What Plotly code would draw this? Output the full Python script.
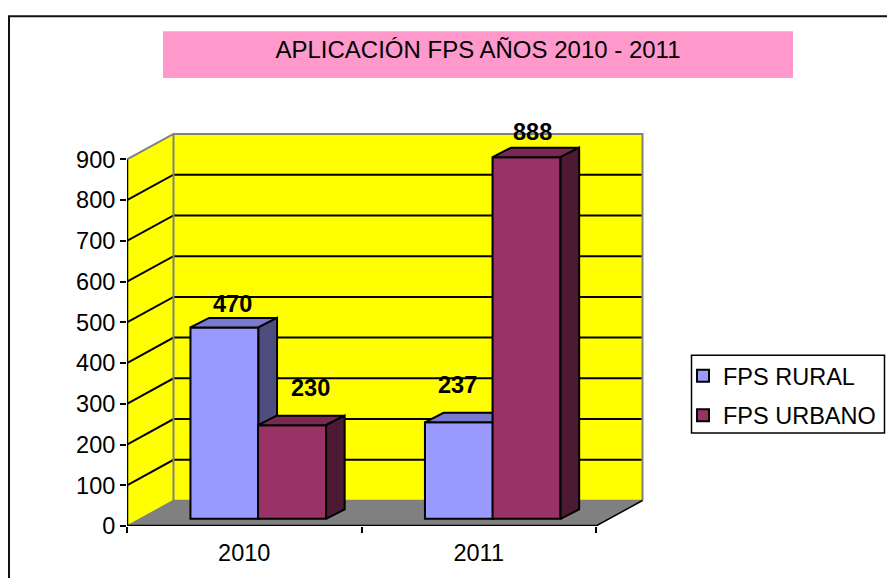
import plotly.graph_objects as go

# ---- data ----
categories = ["2010", "2011"]
rural_values = [470, 237]
urbano_values = [230, 888]
rural_name = "FPS RURAL"
urbano_name = "FPS URBANO"
title_text = "APLICACIÓN FPS AÑOS 2010 - 2011"
y_ticks = list(range(0, 1000, 100))

# ---- colours ----
RURAL = ("#9999FF", "#7A7ACC", "#4D4D80")    # front, top, side
URBANO = ("#993366", "#7A2952", "#4D1A33")
WALL, FLOOR, EDGE = "#FFFF00", "#808080", "#808080"
PINK = "#FF99CC"
FONT = "Liberation Sans, Arial, sans-serif"

# ---- page geometry ----
W, H = 887, 578
L, R, T, B = 127, 243, 133, 51.5
PW, PH = W - L - R, H - T - B
PX_PER_X = 234.5
PX_PER_Y = 0.4078
X_MIN = -0.5
X_MAX = X_MIN + PW / PX_PER_X
Y_MAX = PH / PX_PER_Y
X_END = X_MIN + len(categories)
Y_TOP = y_ticks[-1]


def dx(px):
    return px / PX_PER_X


def dy(px):
    return px / PX_PER_Y


def paper_x(px):
    return (px - L) / PW


def paper_y(px):
    return (H - B - px) / PH


# depth of the chart box and of the bars, in pixels
WALL_DX, WALL_DY = dx(46.5), dy(25.5)
FRONT_DX, FRONT_DY = dx(14), dy(7.2)
BAR_DX, BAR_DY = dx(18.6), dy(9.5)
BAR_W = dx(68)
BAR_OFF = dx(33.8)

fig = go.Figure()


def poly(xs, ys, fill, line=None, lw=2, xa="x", ya="y"):
    fig.add_trace(go.Scatter(
        x=xs, y=ys, mode="lines", fill="toself" if fill else None, fillcolor=fill,
        line=dict(color=line or "rgba(0,0,0,0)", width=lw if line else 0),
        showlegend=False, hoverinfo="skip", cliponaxis=False, xaxis=xa, yaxis=ya,
    ))


# walls and floor (base layer)
xb0, xb1 = X_MIN + WALL_DX, X_END + WALL_DX
poly([xb0, xb1, xb1, xb0, xb0], [WALL_DY, WALL_DY, Y_TOP + WALL_DY, Y_TOP + WALL_DY, WALL_DY], WALL)
poly([X_MIN, xb0, xb0, X_MIN, X_MIN], [0, WALL_DY, Y_TOP + WALL_DY, Y_TOP, 0], WALL)
poly([X_MIN, X_END, xb1, xb0, X_MIN], [0, 0, WALL_DY, WALL_DY, 0], FLOOR)
for t in y_ticks[1:-1]:
    poly([X_MIN, xb0, xb1], [t, t + WALL_DY, t + WALL_DY], None, "#000000", 2)
poly([X_MIN, xb0, xb0], [Y_TOP, Y_TOP + WALL_DY, WALL_DY], None, EDGE, 2)
poly([xb0, xb1, xb1], [Y_TOP + WALL_DY, Y_TOP + WALL_DY, WALL_DY], None, EDGE, 2)
poly([X_MIN, xb0, xb1], [0, WALL_DY, WALL_DY], None, EDGE, 1.5)
poly([X_END, xb1], [0, WALL_DY], None, "#000000", 1.5)
poly([X_MIN, X_MIN], [0, Y_TOP], None, "#000000", 2.5)
poly([X_MIN, X_END], [0, 0], None, "#000000", 2.5)


def series(values, name, colours, offset, xa, ya):
    front, top, side = colours
    xs = [i + offset + FRONT_DX for i in range(len(values))]
    fig.add_trace(go.Bar(
        x=xs, y=values, base=[FRONT_DY] * len(values), width=BAR_W, name=name,
        marker=dict(color=front, line=dict(color="#000000", width=2)),
        xaxis=xa, yaxis=ya, legendgroup=name, hoverinfo="skip",
    ))
    for xc, v in zip(xs, values):
        x0, x1 = xc - BAR_W / 2, xc + BAR_W / 2
        y0, y1 = FRONT_DY, FRONT_DY + v
        poly([x0, x1, x1 + BAR_DX, x0 + BAR_DX, x0],
             [y1, y1, y1 + BAR_DY, y1 + BAR_DY, y1], top, "#000000", 2, xa, ya)
        poly([x1, x1 + BAR_DX, x1 + BAR_DX, x1, x1],
             [y0, y0 + BAR_DY, y1 + BAR_DY, y1, y0], side, "#000000", 2, xa, ya)


series(rural_values, rural_name, RURAL, -BAR_OFF, "x2", "y2")
series(urbano_values, urbano_name, URBANO, BAR_OFF, "x3", "y3")

# data labels, nudged by hand in the original
label_shift = {rural_name: [(8, 23.7), (-1, 37.2)], urbano_name: [(18, 37.5), (6, 24.7)]}
for nm, vals, off in ((rural_name, rural_values, -BAR_OFF), (urbano_name, urbano_values, BAR_OFF)):
    for i, v in enumerate(vals):
        sx, sy = label_shift[nm][i]
        fig.add_annotation(x=i + off + FRONT_DX, y=v + FRONT_DY, xref="x3", yref="y3", text=str(v),
                           showarrow=False, xshift=sx, yshift=sy,
                           font=dict(family=FONT, size=23.5, color="#000000", weight="bold"))

# chart frame, title band, legend box
shapes = [
    dict(type="path", xref="paper", yref="paper", layer="below",
         path=f"M {paper_x(9)} {paper_y(590)} L {paper_x(9)} {paper_y(16)} L {paper_x(900)} {paper_y(16)}",
         line=dict(color="#111111", width=2)),
    dict(type="rect", xref="paper", yref="paper", layer="below",
         x0=paper_x(163), x1=paper_x(793), y0=paper_y(78), y1=paper_y(31),
         fillcolor=PINK, line=dict(width=0)),
    dict(type="rect", xref="paper", yref="paper", layer="below",
         x0=paper_x(691.5), x1=paper_x(884.5), y0=paper_y(433.5), y1=paper_y(355.5),
         fillcolor="#FFFFFF", line=dict(color="#000000", width=1.5)),
]

overlay = dict(range=[X_MIN, X_MAX], visible=False, fixedrange=True)
overlay_y = dict(range=[0, Y_MAX], visible=False, fixedrange=True)
fig.update_layout(
    width=W, height=H, autosize=False,
    margin=dict(l=L, r=R, t=T, b=B, pad=0),
    paper_bgcolor="#FFFFFF", plot_bgcolor="rgba(0,0,0,0)",
    font=dict(family=FONT, size=23.5, color="#000000"),
    barmode="overlay", shapes=shapes,
    title=dict(text=title_text, xref="container", yref="container", x=478 / W, xanchor="center",
               y=1 - 50 / H, yanchor="middle", font=dict(family=FONT, size=24, color="#000000")),
    xaxis=dict(range=[X_MIN, X_MAX], tickmode="array", tickvals=list(range(len(categories))),
               ticktext=categories, showgrid=False, zeroline=False, showline=False, automargin=False,
               ticks="", tickfont=dict(size=23.5), ticklabelstandoff=10,
               minor=dict(tick0=X_MIN, dtick=1, ticks="outside", ticklen=6, tickwidth=2,
                          tickcolor="#000000", showgrid=False)),
    yaxis=dict(range=[0, Y_MAX], tickmode="array", tickvals=y_ticks, showgrid=False, automargin=False,
               zeroline=False, showline=False, ticks="outside", ticklen=6, tickwidth=2,
               tickcolor="#000000", tickfont=dict(size=23.5)),
    xaxis2=dict(overlaying="x", **overlay), yaxis2=dict(overlaying="y", **overlay_y),
    xaxis3=dict(overlaying="x", **overlay), yaxis3=dict(overlaying="y", **overlay_y),
    legend=dict(xref="container", yref="container", x=683 / W, y=1 - 354 / H, xanchor="left", yanchor="top",
                bgcolor="rgba(0,0,0,0)", borderwidth=0, tracegroupgap=6,
                font=dict(family=FONT, size=23.5, color="#000000"), itemclick=False, itemdoubleclick=False),
)

fig.write_html("out.html", config={"displayModeBar": False},
               post_script="document.body.style.margin='0';")
